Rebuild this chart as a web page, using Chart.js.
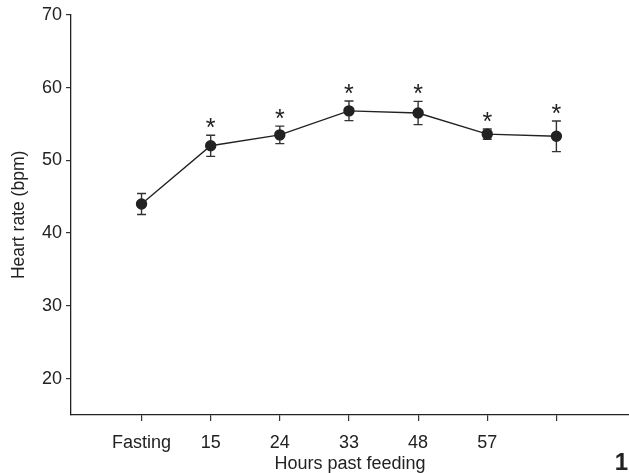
<!DOCTYPE html>
<html>
<head>
<meta charset="utf-8">
<script src="https://cdn.jsdelivr.net/npm/chart.js@4"></script>
<style>
  body { margin: 0; background: #fff; }
  #wrap { width: 629px; height: 473px; position: relative; }
</style>
</head>
<body>
<div id="wrap"><canvas id="heartRate"></canvas></div>
<script>
// categories on the x axis (last point has no label in the figure)
var categories = ['Fasting', '15', '24', '33', '48', '57', ''];
// mean heart rate (bpm) and error (+/-)
var heartRate = [44.0, 52.0, 53.5, 56.8, 56.5, 53.6, 53.3];
var heartRateErr = [1.45, 1.45, 1.2, 1.35, 1.6, 0.7, 2.1];
// significance markers
var significant = [false, true, true, true, true, true, true];
var yTicks = [20, 30, 40, 50, 60, 70];

var ink = '#222';
var fontFamily = '"Liberation Sans", Arial, sans-serif';

var points = heartRate.map(function (v, i) { return { x: i, y: v }; });

// error bars + asterisks + panel number
var extrasPlugin = {
    id: 'extras',
    beforeDatasetsDraw: function (chart) {
        var ctx = chart.ctx, xs = chart.scales.x, ys = chart.scales.y;
        ctx.save();
        ctx.strokeStyle = '#333';
        ctx.lineWidth = 1.4;
        heartRate.forEach(function (v, i) {
            var px = xs.getPixelForValue(i);
            var top = ys.getPixelForValue(v + heartRateErr[i]);
            var bot = ys.getPixelForValue(v - heartRateErr[i]);
            ctx.beginPath();
            ctx.moveTo(px, top); ctx.lineTo(px, bot);
            ctx.moveTo(px - 4.5, top); ctx.lineTo(px + 4.5, top);
            ctx.moveTo(px - 4.5, bot); ctx.lineTo(px + 4.5, bot);
            ctx.stroke();
        });
        ctx.restore();
    },
    afterDatasetsDraw: function (chart) {
        var ctx = chart.ctx, xs = chart.scales.x, ys = chart.scales.y;
        ctx.save();
        ctx.fillStyle = ink;
        ctx.font = '25px ' + fontFamily;
        ctx.textAlign = 'center';
        ctx.textBaseline = 'alphabetic';
        heartRate.forEach(function (v, i) {
            if (!significant[i]) return;
            var px = xs.getPixelForValue(i);
            var top = ys.getPixelForValue(v + heartRateErr[i]);
            ctx.fillText('*', px, top + 0.5);
        });
        ctx.font = 'bold 24px ' + fontFamily;
        ctx.textAlign = 'right';
        ctx.fillText('1', 628, 470);
        ctx.restore();
    }
};

var ctx = document.getElementById('heartRate').getContext('2d');
var heartRateChart = new Chart(ctx, {
    type: 'line',
    data: {
        datasets: [{
            label: 'Heart rate',
            data: points,
            borderColor: ink,
            borderWidth: 1.4,
            backgroundColor: ink,
            pointBackgroundColor: ink,
            pointBorderColor: ink,
            pointRadius: 5,
            tension: 0
        }]
    },
    options: {
        responsive: true,
        maintainAspectRatio: false,
        animation: false,
        layout: { autoPadding: false, padding: { top: 14, right: 0, left: 0, bottom: 0 } },
        plugins: {
            legend: { display: false },
            tooltip: { enabled: false }
        },
        scales: {
            x: {
                type: 'linear',
                min: -1.02,
                max: 7.05,
                afterBuildTicks: function (scale) {
                    scale.ticks = categories.map(function (c, i) { return { value: i }; });
                },
                afterFit: function (scale) {
                    scale.height = 58;
                    scale.paddingLeft = 0;
                    scale.paddingRight = 0;
                },
                grid: { display: true, drawOnChartArea: false, drawTicks: true, tickLength: 6, color: '#333', lineWidth: 1.2 },
                border: { display: true, color: ink, width: 1.3 },
                ticks: {
                    color: ink,
                    padding: 11,
                    maxRotation: 0,
                    font: { family: fontFamily, size: 18 },
                    callback: function (v) { return categories[v]; }
                },
                title: {
                    display: true,
                    text: 'Hours past feeding',
                    color: ink,
                    font: { family: fontFamily, size: 18 },
                    padding: { top: 0, bottom: -2 }
                }
            },
            y: {
                min: 15,
                max: 70,
                afterBuildTicks: function (scale) {
                    scale.ticks = yTicks.map(function (v) { return { value: v }; });
                },
                afterFit: function (scale) { scale.width = 71; },
                grid: { display: true, drawOnChartArea: false, drawTicks: true, tickLength: 5, color: '#333', lineWidth: 1.2 },
                border: { display: true, color: ink, width: 1.3 },
                ticks: {
                    color: ink,
                    padding: 4,
                    font: { family: fontFamily, size: 18 }
                },
                title: {
                    display: true,
                    text: 'Heart rate (bpm)',
                    color: ink,
                    font: { family: fontFamily, size: 17.5 },
                    padding: { top: 9, bottom: 0 }
                }
            }
        }
    },
    plugins: [extrasPlugin]
});
</script>
</body>
</html>
